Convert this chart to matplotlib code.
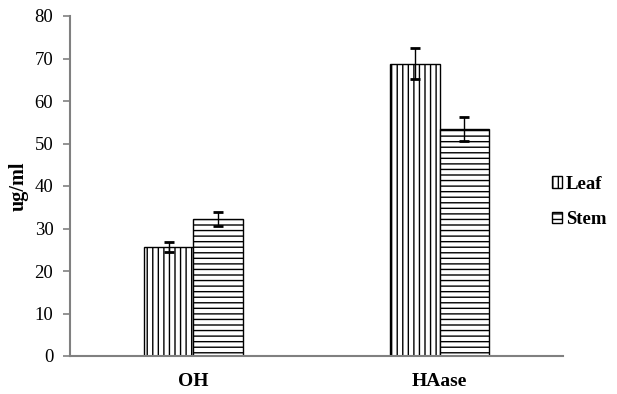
import matplotlib
matplotlib.use("Agg")
import matplotlib.pyplot as plt
import numpy as np
from matplotlib.patches import Patch

categories = ["OH", "HAase"]
leaf = [25.6, 68.8]
stem = [32.2, 53.5]
leaf_err = [1.2, 3.6]
stem_err = [1.7, 2.8]
series_names = ["Leaf", "Stem"]
yticks = [0, 10, 20, 30, 40, 50, 60, 70, 80]

plt.rcParams['font.family'] = ['Liberation Serif', 'DejaVu Serif']
plt.rcParams['hatch.linewidth'] = 1.0

fig = plt.figure(figsize=(6.17, 3.94), dpi=100)
ax = fig.add_axes([70/617, 1-356/394, (563-70)/617, (356-16)/394])

x = np.arange(len(categories))
w = 0.2
ax.bar(x - w/2, leaf, w, color='white', edgecolor='black', hatch='|||', linewidth=1.0)
ax.bar(x + w/2, stem, w, color='white', edgecolor='black', hatch='---', linewidth=1.0)
ax.errorbar(x - w/2, leaf, yerr=leaf_err, fmt='none', ecolor='black', elinewidth=1, capsize=3.5, capthick=2)
ax.errorbar(x + w/2, stem, yerr=stem_err, fmt='none', ecolor='black', elinewidth=1, capsize=3.5, capthick=2)

ax.set_xlim(-0.5, 1.5)
ax.set_ylim(0, 80)
ax.set_yticks(yticks)
ax.set_yticklabels([str(t) for t in yticks], fontsize=13.5)
ax.set_xticks(x)
ax.set_xticklabels(categories, fontsize=14, fontweight='bold')
ax.tick_params(axis='x', length=0, pad=12)
ax.tick_params(axis='y', length=5, color='#808080', width=1.2, pad=7)
for s in ['top', 'right']:
    ax.spines[s].set_visible(False)
for s in ['left', 'bottom']:
    ax.spines[s].set_color('#808080')
    ax.spines[s].set_linewidth(1.5)
ax.set_ylabel('ug/ml', fontsize=14.5, fontweight='bold', labelpad=4)

handles = [Patch(facecolor='white', edgecolor='black', hatch='|||', label=series_names[0]),
           Patch(facecolor='white', edgecolor='black', hatch='---', label=series_names[1])]
leg = fig.legend(handles=handles, loc='center left', bbox_to_anchor=(552/617, 1-202/394),
                 frameon=False, prop={'weight': 'bold', 'size': 13.5},
                 borderpad=0, borderaxespad=0,
                 handlelength=0.55, handleheight=0.55, handletextpad=0.2, labelspacing=1.0)

fig.savefig('out.png', dpi=100)
